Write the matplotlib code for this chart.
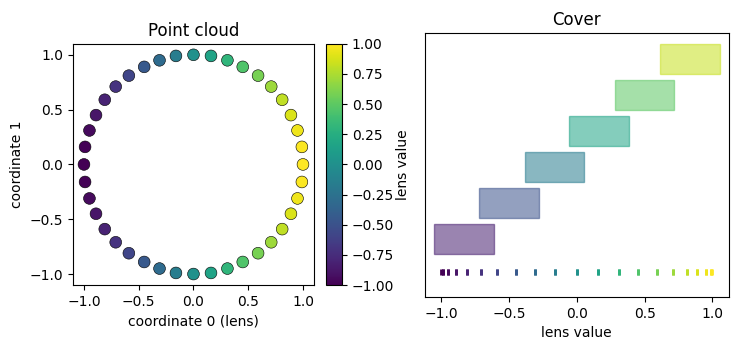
import numpy as np
import matplotlib
matplotlib.use("Agg")
import matplotlib.pyplot as plt
from matplotlib.patches import Rectangle

# point cloud (40 points on the unit circle), x is the lens
xs = [1.00, 0.99, 0.95, 0.89, 0.81, 0.71, 0.59, 0.45, 0.31, 0.16,
      0.00, -0.16, -0.31, -0.45, -0.59, -0.71, -0.81, -0.89, -0.95, -0.99,
      -1.00, -0.99, -0.95, -0.89, -0.81, -0.71, -0.59, -0.45, -0.31, -0.16,
      0.00, 0.16, 0.31, 0.45, 0.59, 0.71, 0.81, 0.89, 0.95, 0.99]
ys = [0.00, 0.16, 0.31, 0.45, 0.59, 0.71, 0.81, 0.89, 0.95, 0.99,
      1.00, 0.99, 0.95, 0.89, 0.81, 0.71, 0.59, 0.45, 0.31, 0.16,
      0.00, -0.16, -0.31, -0.45, -0.59, -0.71, -0.81, -0.89, -0.95, -0.99,
      -1.00, -0.99, -0.95, -0.89, -0.81, -0.71, -0.59, -0.45, -0.31, -0.16]

# cover intervals
starts = [-1.05, -0.72, -0.385, -0.055, 0.28, 0.61]
ends = [-0.61, -0.28, 0.053, 0.385, 0.717, 1.057]

fig = plt.figure(figsize=(7.39, 3.5), dpi=100)
ax1 = fig.add_axes([0.0988, 0.1857, 0.326, 0.689])
cax = fig.add_axes([0.441, 0.1857, 0.0217, 0.689])
ax2 = fig.add_axes([0.575, 0.1514, 0.411, 0.754])

sc = ax1.scatter(xs, ys, c=xs, cmap="viridis", vmin=-1, vmax=1, s=72,
                 edgecolors="black", linewidths=0.4)
ax1.set_title("Point cloud")
ax1.set_xlabel("coordinate 0 (lens)")
ax1.set_ylabel("coordinate 1")
ax1.set_xticks([-1.0, -0.5, 0.0, 0.5, 1.0])
ax1.set_yticks([-1.0, -0.5, 0.0, 0.5, 1.0])
fig.colorbar(sc, cax=cax, ticks=np.arange(-1, 1.01, 0.25))

cmap = plt.get_cmap("viridis")
norm = plt.Normalize(-1, 1)
for i, (a, b) in enumerate(zip(starts, ends)):
    col = cmap(norm((a + b) / 2))
    ax2.add_patch(Rectangle((a, i - 0.42), b - a, 0.84, facecolor=col,
                            edgecolor=col, alpha=0.55, linewidth=1))

ax2.vlines(xs, -1.0, -0.83, colors=cmap(norm(np.array(xs))), linewidth=2)
ax2.set_xlim(-1.12, 1.12)
ax2.set_ylim(-1.6, 5.72)
ax2.set_yticks([])
ax2.set_xticks([-1.0, -0.5, 0.0, 0.5, 1.0])
ax2.set_title("Cover")
ax2.set_xlabel("lens value")
ax2.set_ylabel("lens value", labelpad=11)

fig.savefig("out.png", dpi=100)
